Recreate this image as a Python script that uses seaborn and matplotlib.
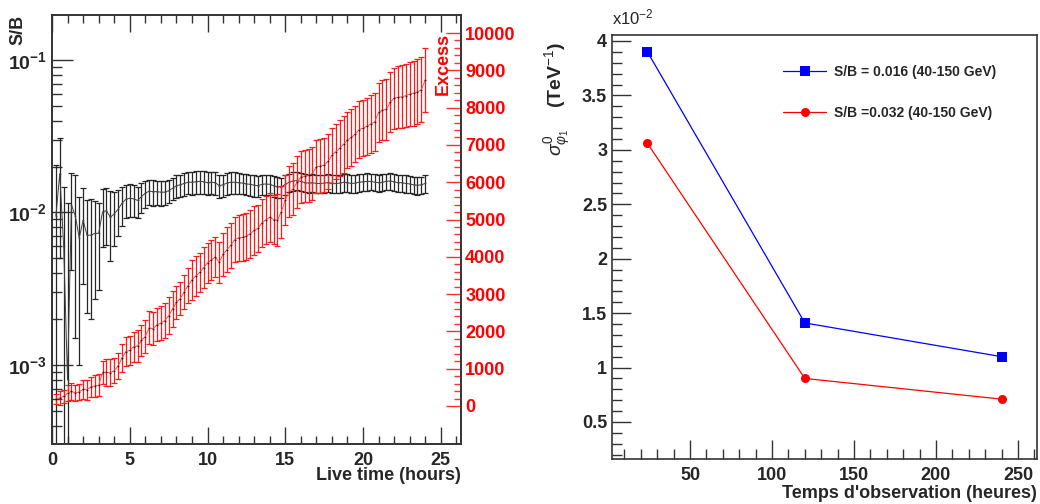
import numpy as np
import matplotlib
matplotlib.use('Agg')
import matplotlib.pyplot as plt
import seaborn as sns
from matplotlib.ticker import FixedLocator, FixedFormatter, NullFormatter

# style: ROOT-like plots, white background, ticks inside
sns.set_theme(style='white')
plt.rcParams['font.family'] = ['Liberation Sans', 'DejaVu Sans']
plt.rcParams['mathtext.fontset'] = 'custom'
plt.rcParams['mathtext.rm'] = 'Liberation Sans'
plt.rcParams['mathtext.it'] = 'Liberation Sans:italic'
plt.rcParams['mathtext.bf'] = 'Liberation Sans:bold'

# ---------------------------------------------------------
# left panel data: S/B and excess vs live time
# ---------------------------------------------------------
live_time = [
    0.25, 0.5, 0.75, 1.0, 1.25, 1.5, 1.75, 2.0, 2.25, 2.5, 2.75, 3.0,
    3.25, 3.5, 3.75, 4.0, 4.25, 4.5, 4.75, 5.0, 5.25, 5.5, 5.75, 6.0,
    6.25, 6.5, 6.75, 7.0, 7.25, 7.5, 7.75, 8.0, 8.25, 8.5, 8.75, 9.0,
    9.25, 9.5, 9.75, 10.0, 10.25, 10.5, 10.75, 11.0, 11.25, 11.5, 11.75, 12.0,
    12.25, 12.5, 12.75, 13.0, 13.25, 13.5, 13.75, 14.0, 14.25, 14.5, 14.75, 15.0,
    15.25, 15.5, 15.75, 16.0, 16.25, 16.5, 16.75, 17.0, 17.25, 17.5, 17.75, 18.0,
    18.25, 18.5, 18.75, 19.0, 19.25, 19.5, 19.75, 20.0, 20.25, 20.5, 20.75, 21.0,
    21.25, 21.5, 21.75, 22.0, 22.25, 22.5, 22.75, 23.0, 23.25, 23.5, 23.75, 24.0,
]

sb_ratio = [
    0.0095, 0.018, 0.006, 0.0008, 0.0112, 0.0095, 0.0068, 0.0089, 0.0071, 0.0071, 0.0073, 0.0073,
    0.0101, 0.0103, 0.0093, 0.0098, 0.0105, 0.0115, 0.0122, 0.0124, 0.0123, 0.0120, 0.0127, 0.0134,
    0.0138, 0.0137, 0.0137, 0.0136, 0.0136, 0.0139, 0.0144, 0.0150, 0.0152, 0.0155, 0.0158, 0.0158,
    0.0159, 0.0160, 0.0159, 0.0157, 0.0158, 0.0157, 0.0150, 0.0152, 0.0156, 0.0158, 0.0158, 0.0157,
    0.0156, 0.0154, 0.0153, 0.0151, 0.0150, 0.0153, 0.0154, 0.0153, 0.0150, 0.0147, 0.0147, 0.0153,
    0.0158, 0.0161, 0.0162, 0.0160, 0.0157, 0.0156, 0.0157, 0.0155, 0.0155, 0.0156, 0.0157, 0.0156,
    0.0155, 0.0156, 0.0158, 0.0157, 0.0155, 0.0156, 0.0158, 0.0159, 0.0160, 0.0160, 0.0158, 0.0157,
    0.0158, 0.0160, 0.0161, 0.0159, 0.0157, 0.0157, 0.0155, 0.0154, 0.0152, 0.0151, 0.0152, 0.0155,
]
sb_err = [
    0.011, 0.013, 0.0087, 0.0107, 0.007, 0.008, 0.0058, 0.0055, 0.0049, 0.0051, 0.0046, 0.0042,
    0.0042, 0.0042, 0.0045, 0.0038, 0.0035, 0.0033, 0.0030, 0.0030, 0.0029, 0.0028, 0.0028, 0.0027,
    0.0026, 0.0026, 0.0025, 0.0025, 0.0024, 0.0024, 0.0024, 0.0025, 0.0025, 0.0026, 0.0026, 0.0027,
    0.0027, 0.0027, 0.0027, 0.0026, 0.0026, 0.0026, 0.0025, 0.0025, 0.0025, 0.0025, 0.0025, 0.0025,
    0.0024, 0.0024, 0.0024, 0.0024, 0.0023, 0.0023, 0.0023, 0.0023, 0.0023, 0.0023, 0.0022, 0.0022,
    0.0022, 0.0022, 0.0022, 0.0022, 0.0021, 0.0021, 0.0021, 0.0021, 0.0021, 0.0021, 0.0021, 0.0021,
    0.0021, 0.0021, 0.0021, 0.0021, 0.0021, 0.0021, 0.0021, 0.0021, 0.0021, 0.0020, 0.0020, 0.0020,
    0.0020, 0.0020, 0.0020, 0.0020, 0.0020, 0.0020, 0.0020, 0.0020, 0.0020, 0.0020, 0.0020, 0.0020,
]

excess = [
    190, 220, 260, 340, 390, 350, 380, 450, 440, 510, 540, 555,
    900, 900, 890, 950, 1070, 1290, 1460, 1490, 1590, 1610, 1760, 1860,
    2100, 2070, 2180, 2220, 2290, 2420, 2600, 2780, 2880, 3060, 3230, 3380,
    3490, 3580, 3710, 3840, 3915, 4000, 3850, 4070, 4190, 4310, 4460, 4510,
    4520, 4555, 4620, 4710, 4760, 4910, 4990, 5060, 5000, 4990, 5210, 5520,
    5750, 5810, 6000, 6140, 6160, 6180, 6230, 6415, 6430, 6460, 6560, 6720,
    6820, 6910, 7020, 7130, 7200, 7290, 7410, 7450, 7500, 7565, 7620, 7870,
    7930, 7950, 8150, 8250, 8275, 8290, 8320, 8360, 8390, 8420, 8480, 8740,
]
excess_err = [
    140, 180, 180, 210, 220, 220, 220, 250, 270, 270, 290, 300,
    310, 370, 360, 340, 350, 380, 400, 400, 400, 420, 420, 440,
    450, 440, 450, 450, 460, 500, 480, 450, 450, 460, 480, 530,
    530, 520, 540, 540, 540, 540, 560, 580, 600, 600, 600, 620,
    630, 630, 640, 650, 630, 640, 650, 650, 670, 690, 700, 680,
    690, 700, 700, 700, 700, 700, 710, 710, 720, 720, 740, 740,
    740, 750, 760, 760, 760, 760, 760, 760, 770, 780, 780, 780,
    800, 820, 800, 820, 830, 840, 850, 860, 870, 870, 870, 870,
]

# ---------------------------------------------------------
# right panel data: sigma vs observation time
# ---------------------------------------------------------
obs_time = [24, 120, 240]
sigma_sb016 = [3.90, 1.41, 1.10]
sigma_sb032 = [3.06, 0.90, 0.71]
legend_labels = ['S/B = 0.016 (40-150 GeV)', 'S/B =0.032 (40-150 GeV)']

W, H = 1040, 504
fig = plt.figure(figsize=(W / 100, H / 100), dpi=100)
frame_col = '#333333'
tick_font = dict(fontsize=13, fontweight='bold')


def style_frame(a):
    for s in a.spines.values():
        s.set_color(frame_col)
        s.set_linewidth(1.2)


# ---------------------------------------------------------
# 1. left panel
# ---------------------------------------------------------
ax = fig.add_axes([52 / W, 1 - 444 / H, 409 / W, 429 / H])
ax.set_yscale('log')
ax2 = ax.twinx()

sb = np.array(sb_ratio)
sbe = np.array(sb_err)
lo = np.minimum(sbe, sb * 0.999)
ax.errorbar(live_time, sb, yerr=[lo, sbe], fmt='none', ecolor='#262626',
            elinewidth=0.9, capsize=2, capthick=0.9)
sns.lineplot(x=live_time, y=sb_ratio, ax=ax, color='#404040', lw=0.7,
             marker='o', markersize=1.3, markeredgewidth=0, estimator=None, sort=False)

ax2.errorbar(live_time, excess, yerr=excess_err, fmt='none', ecolor='#ff1a1a',
             elinewidth=0.9, capsize=2, capthick=0.9)
sns.lineplot(x=live_time, y=excess, ax=ax2, color='#ff4d4d', lw=0.7,
             marker='o', markersize=1.3, markeredgewidth=0, markerfacecolor='#400000',
             estimator=None, sort=False)

ax.set_xlim(0, 26.3)
ax.set_ylim(10 ** -3.518, 10 ** -0.705)
ax2.set_ylim(-1019, 10483)

ax.xaxis.set_major_locator(FixedLocator([0, 5, 10, 15, 20, 25]))
ax.xaxis.set_minor_locator(FixedLocator(np.arange(0, 27, 1)))
ax.set_xticklabels(['0', '5', '10', '15', '20', '25'], **tick_font)
ax.tick_params(axis='x', which='both', direction='in', top=True, bottom=True,
               color=frame_col, pad=6)
ax.tick_params(axis='x', which='major', length=12, width=1)
ax.tick_params(axis='x', which='minor', length=6, width=1)

ax.yaxis.set_major_locator(FixedLocator([1e-3, 1e-2, 1e-1]))
ax.yaxis.set_major_formatter(FixedFormatter([r'$\mathbf{10^{-3}}$', r'$\mathbf{10^{-2}}$',
                                             r'$\mathbf{10^{-1}}$']))
minor_log = [m * 10.0 ** d for d in (-4, -3, -2, -1) for m in range(2, 10)]
ax.yaxis.set_minor_locator(FixedLocator(minor_log))
ax.yaxis.set_minor_formatter(NullFormatter())
ax.tick_params(axis='y', which='both', direction='in', left=True, right=False,
               color=frame_col, labelsize=14)
ax.tick_params(axis='y', which='major', length=15, width=1)
ax.tick_params(axis='y', which='minor', length=7.5, width=1)

ax2.yaxis.set_major_locator(FixedLocator(np.arange(0, 10001, 1000)))
ax2.yaxis.set_minor_locator(FixedLocator(np.arange(0, 10001, 200)))
ax2.set_yticklabels([str(v) for v in range(0, 10001, 1000)], color='red', **tick_font)
ax2.tick_params(axis='y', which='both', direction='in', right=True, left=False,
                color='#ff3030', pad=3)
ax2.tick_params(axis='y', which='major', length=11, width=1)
ax2.tick_params(axis='y', which='minor', length=5, width=1)
ax.grid(False)
ax2.grid(False)
style_frame(ax)
style_frame(ax2)
ax.set_xlabel('')
ax.set_ylabel('')
ax2.set_ylabel('')

fig.text(18 / W, 1 - 15 / H, 'S/B', rotation=90, ha='center', va='top',
         fontsize=13, fontweight='bold')
fig.text(443 / W, 1 - 33 / H, 'Excess', rotation=90, ha='center', va='top',
         fontsize=13, fontweight='bold', color='red')
fig.text(461 / W, 1 - 476 / H, 'Live time (hours)', ha='right', va='center',
         fontsize=13, fontweight='bold')

# ---------------------------------------------------------
# 2. right panel
# ---------------------------------------------------------
ax3 = fig.add_axes([612 / W, 1 - 459 / H, 425 / W, 424 / H])
sns.lineplot(x=obs_time, y=sigma_sb016, ax=ax3, color='blue', lw=0.9, marker='s',
             markersize=6.5, markeredgewidth=0, label=legend_labels[0])
sns.lineplot(x=obs_time, y=sigma_sb032, ax=ax3, color='red', lw=0.9, marker='o',
             markersize=6.5, markeredgewidth=0, label=legend_labels[1])

ax3.set_xlim(2.4, 261.6)
ax3.set_ylim(0.16, 4.055)
ax3.xaxis.set_major_locator(FixedLocator([50, 100, 150, 200, 250]))
ax3.xaxis.set_minor_locator(FixedLocator(np.arange(10, 261, 10)))
ax3.set_xticklabels(['50', '100', '150', '200', '250'], **tick_font)
ax3.yaxis.set_major_locator(FixedLocator([0.5, 1, 1.5, 2, 2.5, 3, 3.5, 4]))
ax3.yaxis.set_minor_locator(FixedLocator(np.arange(0.2, 4.01, 0.1)))
ax3.set_yticklabels(['0.5', '1', '1.5', '2', '2.5', '3', '3.5', '4'], **tick_font)
ax3.tick_params(axis='both', which='both', direction='in', top=False, right=False,
                left=True, bottom=True, color=frame_col)
ax3.tick_params(axis='both', which='major', length=14, width=1)
ax3.tick_params(axis='both', which='minor', length=7, width=1)
ax3.tick_params(axis='x', pad=6)
ax3.grid(False)
style_frame(ax3)
ax3.set_xlabel('')
ax3.set_ylabel('')

ax3.legend(loc='upper left', bbox_to_anchor=((783 - 612) / 425, 1 - (65 - 35) / 424),
           frameon=False, borderpad=0, borderaxespad=0, handlelength=3.1,
           handletextpad=0.6, labelspacing=1.95, prop={'weight': 'bold', 'size': 10})

fig.text(558 / W, 1 - 42 / H, r'$\sigma^{0}_{\varphi_{1}}$    (TeV$^{-1}$)', rotation=90,
         ha='center', va='top', fontsize=14, fontweight='bold')
fig.text(612 / W, 1 - 17 / H, r'x10$^{-2}$', ha='left', va='center', fontsize=12)
fig.text(1037 / W, 1 - 493 / H, "Temps d'observation (heures)", ha='right', va='center',
         fontsize=13, fontweight='bold')

fig.savefig('out.png', dpi=100)
